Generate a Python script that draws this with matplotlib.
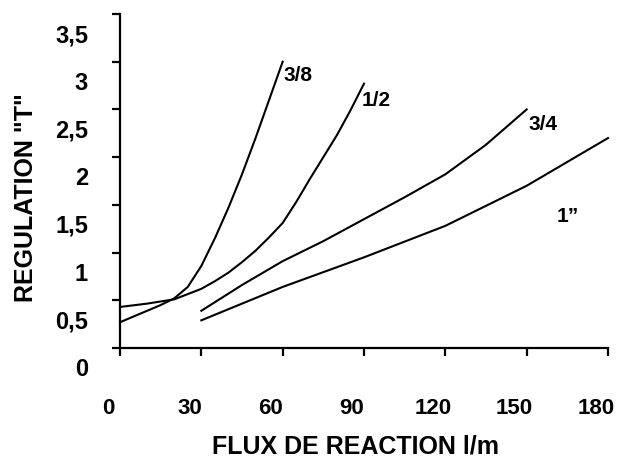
import matplotlib
matplotlib.use("Agg")
import matplotlib.pyplot as plt
from matplotlib.transforms import ScaledTranslation

plt.rcParams['font.family'] = ['Liberation Sans', 'DejaVu Sans']
plt.rcParams['font.weight'] = 'bold'

# Data
x_38 = [0, 5, 10, 15, 20, 25, 30, 35, 40, 45, 50, 55, 60]
y_38 = [0.27, 0.33, 0.39, 0.45, 0.52, 0.64, 0.86, 1.15, 1.47, 1.82, 2.20, 2.60, 3.0]

x_12 = [0, 10, 20, 30, 35, 40, 45, 50, 55, 60, 65, 70, 75, 80, 85, 90]
y_12 = [0.43, 0.465, 0.51, 0.62, 0.70, 0.79, 0.90, 1.02, 1.16, 1.31, 1.53, 1.77, 2.00, 2.23, 2.49, 2.77]

x_34 = [30, 45, 60, 75, 90, 105, 120, 135, 150]
y_34 = [0.39, 0.66, 0.91, 1.12, 1.35, 1.58, 1.82, 2.13, 2.50]

x_1 = [30, 60, 90, 120, 150, 180]
y_1 = [0.29, 0.64, 0.95, 1.28, 1.70, 2.20]

series_labels = ["3/8", "1/2", "3/4", "1\u201d"]
label_pos = [(65.7, 2.87), (94.4, 2.60), (156.0, 2.35), (165.2, 1.39)]

x_ticks = [0, 30, 60, 90, 120, 150, 180]
y_ticks = [0, 0.5, 1, 1.5, 2, 2.5, 3, 3.5]
y_tick_labels = ["0", "0,5", "1", "1,5", "2", "2,5", "3", "3,5"]

fig = plt.figure(figsize=(6.31, 4.60), dpi=100)
ax = fig.add_axes([120/631, 1-349/460, (608-120)/631, (349-15)/460])

for xs, ys in [(x_38, y_38), (x_12, y_12), (x_34, y_34), (x_1, y_1)]:
    ax.plot(xs, ys, color='black', lw=1.5, clip_on=False, solid_joinstyle='round')

for lab, (lx, ly) in zip(series_labels, label_pos):
    ax.text(lx, ly, lab, fontsize=15, fontweight='bold', ha='center', va='center')

ax.set_xlim(0, 180)
ax.set_ylim(0, 3.5)
ax.set_xticks(x_ticks)
ax.set_xticklabels([str(v) for v in x_ticks])
ax.set_yticks(y_ticks)
ax.set_yticklabels(y_tick_labels)

for s in ['top', 'right']:
    ax.spines[s].set_visible(False)
for s in ['left', 'bottom']:
    ax.spines[s].set_linewidth(1.6)

ax.tick_params(axis='both', direction='out', length=6, width=1.6)
ax.tick_params(axis='x', pad=29, labelsize=16)
ax.tick_params(axis='y', pad=17, labelsize=17)

for lab in ax.get_yticklabels():
    lab.set_fontweight('bold')
    lab.set_transform(lab.get_transform() + ScaledTranslation(0, -0.18, fig.dpi_scale_trans))
for lab in ax.get_xticklabels():
    lab.set_fontweight('bold')
    lab.set_transform(lab.get_transform() + ScaledTranslation(-0.12, 0, fig.dpi_scale_trans))

fig.text(355/631, 1-447/460, "FLUX DE REACTION l/m", fontsize=18, fontweight='bold',
         ha='center', va='center')
fig.text(26/631, 1-198/460, 'REGULATION "T"', fontsize=18, fontweight='bold',
         ha='center', va='center', rotation=90)

fig.savefig("out.png", dpi=100)
